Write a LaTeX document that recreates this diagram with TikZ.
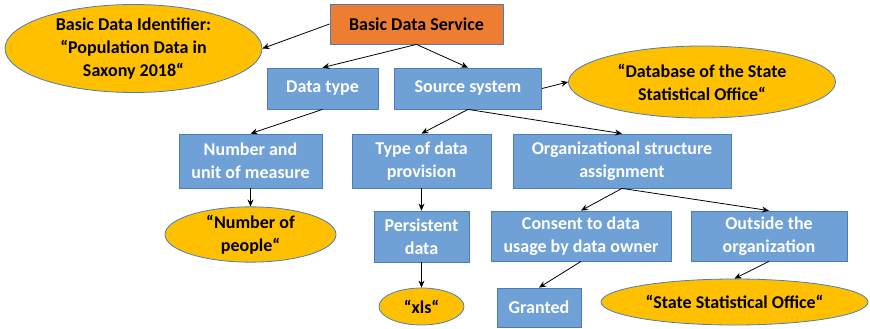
\documentclass[tikz,border=0pt]{standalone}
\usepackage{fontspec}
\setmainfont{Carlito}
\usetikzlibrary{arrows.meta,shapes.geometric}
\definecolor{boxblue}{HTML}{6FA1D6}
\definecolor{edgeblue}{HTML}{4A7EBB}
\definecolor{svcorange}{HTML}{ED7D31}
\definecolor{valgold}{HTML}{FFC000}
\tikzset{
  x=1pt, y=-1pt,
  lbl/.style={font=\fontsize{18}{23}\selectfont\bfseries, align=center, inner sep=0pt},
  bluebox/.style={lbl, rectangle, draw=edgeblue, line width=0.8pt, fill=boxblue, text=white},
  svcbox/.style={lbl, rectangle, draw=edgeblue, line width=0.8pt, fill=svcorange, text=black},
  valoval/.style={lbl, ellipse, draw=edgeblue, line width=0.8pt, fill=valgold, text=black},
  link/.style={draw=black, line width=0.8pt, -{Stealth[length=7pt,width=6pt]}}
}
\begin{document}
\begin{tikzpicture}
\useasboundingbox (0,0) rectangle (870,329);

% top level
\node[svcbox, minimum width=173pt, minimum height=40pt] (bds) at (416.5,24) {Basic Data Service};
\node[valoval, minimum width=257pt, minimum height=88pt] (bdi) at (133.5,48.5)
  {Basic Data Identifier:\\``Population Data in\\Saxony 2018``};

% second level
\node[bluebox, minimum width=111pt, minimum height=41pt] (dtype) at (322.5,88.5) {Data type};
\node[bluebox, minimum width=147pt, minimum height=41pt] (src) at (468,88.5) {Source system};
\node[valoval, minimum width=267pt, minimum height=72pt] (db) at (702,82)
  {``Database of the State\\Statistical Office``};

% third level
\node[bluebox, minimum width=143pt, minimum height=54pt] (num) at (250.5,161) {Number and\\unit of measure};
\node[bluebox, minimum width=139pt, minimum height=54pt] (tprov) at (421.5,161) {Type of data\\provision};
\node[bluebox, minimum width=218pt, minimum height=54pt] (org) at (622,161) {Organizational structure\\assignment};

% fourth level
\node[valoval, minimum width=171pt, minimum height=51pt] (people) at (250.5,234.5) {``Number of\\people``};
\node[bluebox, minimum width=95pt, minimum height=51pt] (pers) at (421.5,236.5) {Persistent\\data};
\node[bluebox, minimum width=180pt, minimum height=50pt] (consent) at (581,236) {Consent to data\\usage by data owner};
\node[bluebox, minimum width=156pt, minimum height=50pt] (outside) at (769,236) {Outside the\\organization};

% leaves
\node[valoval, minimum width=85pt, minimum height=37pt] (xls) at (421.5,306.5) {``xls``};
\node[bluebox, minimum width=84pt, minimum height=39pt] (granted) at (539,307.5) {Granted};
\node[valoval, minimum width=267pt, minimum height=46pt] (sso) at (734.5,302) {``State Statistical Office``};

% connectors
\draw[link] (bds.west) -- (bdi.east);
\draw[link] (bds.south) -- (dtype.north);
\draw[link] (bds.south) -- (src.north);
\draw[link] (src.east) -- (db.west);
\draw[link] (dtype.south) -- (num.north);
\draw[link] (src.south) -- (tprov.north);
\draw[link] (src.south) -- (org.north);
\draw[link] (num.south) -- (people.north);
\draw[link] (tprov.south) -- (pers.north);
\draw[link] (pers.south) -- (xls.north);
\draw[link] (org.south) -- (consent.north);
\draw[link] (org.south) -- (outside.north);
\draw[link] (consent.south) -- (granted.north);
\draw[link] (outside.south) -- (sso.north);
\end{tikzpicture}
\end{document}
